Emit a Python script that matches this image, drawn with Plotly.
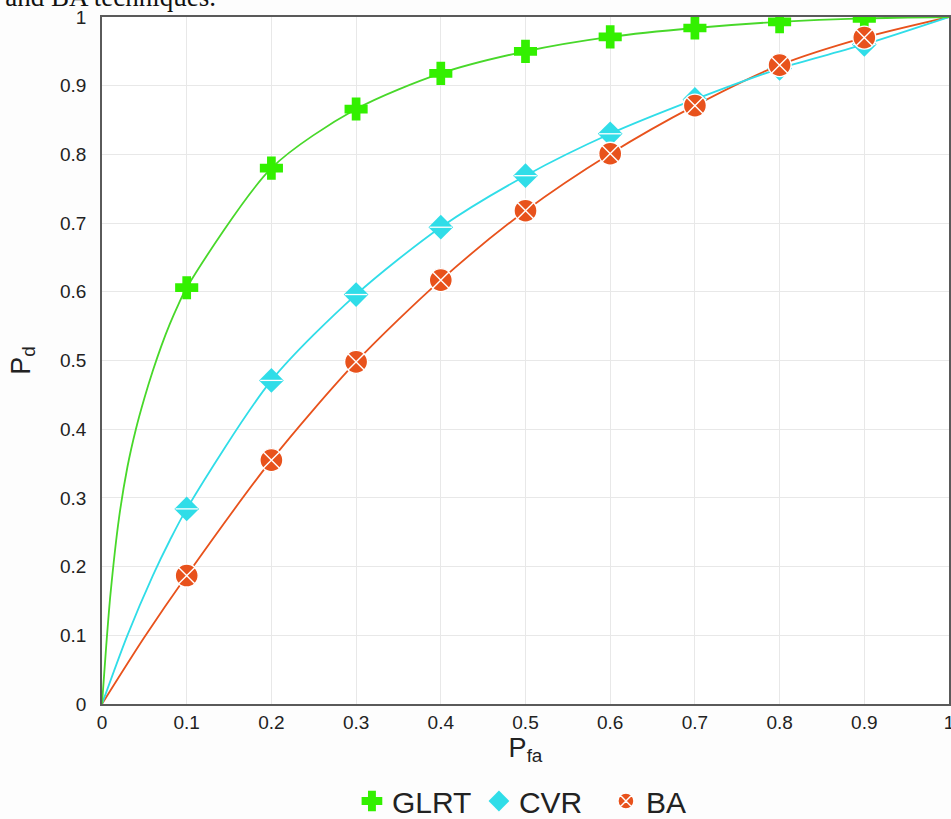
import plotly.graph_objects as go

# Marker positions (Pfa) and values
pfa_markers = [0.1, 0.2, 0.3, 0.4, 0.5, 0.6, 0.7, 0.8, 0.9]
glrt_markers = [0.606, 0.780, 0.866, 0.918, 0.950, 0.971, 0.984, 0.993, 0.998]
cvr_markers = [0.284, 0.471, 0.596, 0.694, 0.769, 0.830, 0.880, 0.925, 0.960]
ba_markers = [0.187, 0.355, 0.498, 0.617, 0.718, 0.801, 0.871, 0.930, 0.970]

# Curve points (including ends)
glrt_x = [0, 0.005, 0.01, 0.02, 0.03, 0.04, 0.05, 0.06, 0.07, 0.08, 0.09, 0.1, 0.2, 0.3, 0.4, 0.5, 0.6, 0.7, 0.8, 0.9, 1.0]
glrt_y = [0, 0.085, 0.16, 0.27, 0.345, 0.40, 0.445, 0.485, 0.521, 0.553, 0.581, 0.606, 0.780, 0.866, 0.918, 0.950, 0.971, 0.984, 0.993, 0.998, 1.0]
cvr_x = [0, 0.03, 0.06, 0.08, 0.1, 0.2, 0.3, 0.4, 0.5, 0.6, 0.7, 0.8, 0.9, 1.0]
cvr_y = [0, 0.10, 0.187, 0.238, 0.284, 0.471, 0.596, 0.694, 0.769, 0.830, 0.880, 0.925, 0.960, 1.0]
ba_x = [0, 0.05, 0.1, 0.2, 0.3, 0.4, 0.5, 0.6, 0.7, 0.8, 0.9, 1.0]
ba_y = [0, 0.097, 0.187, 0.355, 0.498, 0.617, 0.718, 0.801, 0.871, 0.930, 0.970, 1.0]

tick_vals = [0, 0.1, 0.2, 0.3, 0.4, 0.5, 0.6, 0.7, 0.8, 0.9, 1]
tick_text = ["0", "0.1", "0.2", "0.3", "0.4", "0.5", "0.6", "0.7", "0.8", "0.9", "1"]

GREEN_LINE = "#48d82a"
GREEN_MK = "#33f000"
CYAN = "#30dde8"
ORANGE = "#e8521c"
FONT = "Liberation Sans, Arial"

fig = go.Figure()

# lines
fig.add_trace(go.Scatter(x=ba_x, y=ba_y, mode="lines", line=dict(color=ORANGE, width=1.8, shape="spline", smoothing=0.8),
                         showlegend=False, hoverinfo="skip", legendgroup="ba"))
fig.add_trace(go.Scatter(x=cvr_x, y=cvr_y, mode="lines", line=dict(color=CYAN, width=1.8, shape="spline", smoothing=0.8),
                         showlegend=False, hoverinfo="skip", legendgroup="cvr"))
fig.add_trace(go.Scatter(x=glrt_x, y=glrt_y, mode="lines", line=dict(color=GREEN_LINE, width=1.8, shape="spline", smoothing=0.8),
                         showlegend=False, hoverinfo="skip", legendgroup="glrt"))

# markers
fig.add_trace(go.Scatter(x=pfa_markers, y=glrt_markers, mode="markers", name="GLRT", legendgroup="glrt",
                         marker=dict(symbol="cross", size=18, color=GREEN_MK, line=dict(width=1.5, color=GREEN_MK))))
fig.add_trace(go.Scatter(x=pfa_markers, y=cvr_markers, mode="markers", name="CVR", legendgroup="cvr",
                         marker=dict(symbol="diamond", size=19, color=CYAN, line=dict(width=0))))
fig.add_trace(go.Scatter(x=pfa_markers, y=cvr_markers, mode="markers", showlegend=False, legendgroup="cvr",
                         hoverinfo="skip",
                         marker=dict(symbol="line-ew", size=16, color="white", line=dict(width=1.3, color="white"))))
fig.add_trace(go.Scatter(x=pfa_markers, y=ba_markers, mode="markers", name="BA", legendgroup="ba",
                         marker=dict(symbol="circle-x", size=23, color=ORANGE, line=dict(width=1.4, color="white"))))

axis_common = dict(
    range=[0, 1], tickvals=tick_vals, ticktext=tick_text,
    showgrid=True, gridcolor="#e8e8e8", gridwidth=1,
    showline=True, linecolor="#5a5a5a", linewidth=1.5, mirror=True,
    zeroline=False, ticks="", ticklabeloverflow="allow",
    tickfont=dict(family=FONT, size=19, color="#222222"),
)

fig.update_layout(
    width=951, height=819,
    margin=dict(l=102, r=2, t=17, b=115),
    paper_bgcolor="#fdfdfd", plot_bgcolor="white",
    xaxis=dict(**axis_common, ticklabelstandoff=0,
               title=dict(text="P<sub>fa</sub>", font=dict(family=FONT, size=27, color="#222222"),
                          standoff=6)),
    yaxis=dict(**axis_common, ticklabelstandoff=10,
               title=dict(text="P<sub>d</sub>", font=dict(family=FONT, size=27, color="#222222"),
                          standoff=22)),
    legend=dict(orientation="h", x=0.52, xanchor="center", yref="container", y=0.022, yanchor="middle",
                font=dict(family=FONT, size=30, color="#222222"),
                entrywidth=82, entrywidthmode="pixels",
                traceorder="normal", itemwidth=30, bgcolor="rgba(0,0,0,0)"),
    annotations=[dict(text="CVR and BA techniques.", xref="paper", yref="paper", x=0.137, y=1.0,
                      xanchor="right", yanchor="bottom", yshift=3, showarrow=False,
                      font=dict(family="Liberation Serif, Times New Roman", size=27, color="#111111"))],
)
fig.update_xaxes(automargin=False)
fig.update_yaxes(automargin=False)

fig.write_html("out.html", config={"displayModeBar": False},
               post_script="document.body.style.margin='0';")
